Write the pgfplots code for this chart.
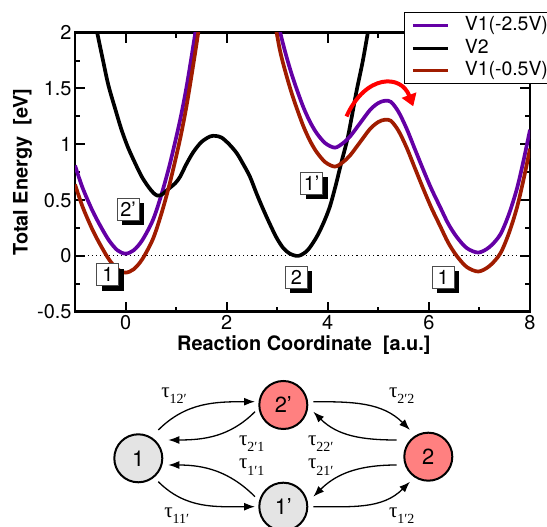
\documentclass[border=0pt]{standalone}
\usepackage{fontspec}
\setmainfont{TeX Gyre Heros}
\newfontfamily\tfont{Liberation Serif}
\usepackage{pgfplots}
\pgfplotsset{compat=1.18}
\usetikzlibrary{arrows.meta,shadows}
\definecolor{vpurple}{RGB}{100,0,165}
\definecolor{vred}{RGB}{160,28,0}
\definecolor{cgray}{RGB}{228,228,228}
\definecolor{csalmon}{RGB}{255,128,128}
\newcommand{\tlab}[1]{{\tfont τ\raisebox{-0.3em}{\fontsize{14}{14}\selectfont #1}}}
\tikzset{
  blab/.style={draw=black!70, line width=0.8bp, fill=white, minimum width=22bp, minimum height=22bp, inner sep=1bp, font=\fontsize{20}{20}\selectfont, drop shadow={shadow xshift=5bp, shadow yshift=-5bp, fill=black, opacity=1}},
  st/.style={circle, draw=black, line width=2bp, minimum size=48bp, inner sep=0pt, font=\fontsize{22}{22}\selectfont},
  tr/.style={line width=1.3bp, -{Latex[length=11bp,width=8bp]}},
  tl/.style={font=\fontsize{21}{21}\selectfont},
}
\begin{document}
\begin{tikzpicture}[x=1bp,y=1bp]
\path[use as bounding box] (0,0) rectangle (547,527);
\begin{axis}[
  at={(75bp,215.3bp)}, anchor=south west,
  scale only axis, width=455bp, height=279bp,
  xmin=-1, xmax=8, ymin=-0.5, ymax=2,
  xtick={0,2,4,6,8}, ytick={-0.5,0,0.5,1,1.5,2},
  minor x tick num=1, minor y tick num=1,
  tick align=inside,
  major tick length=10bp, minor tick length=5bp,
  axis line style={line width=2.5bp},
  tick style={black, line width=2bp},
  /pgf/number format/assume math mode=true,
  tick label style={font=\fontsize{20}{24}\selectfont},
  label style={font=\bfseries\fontsize{20}{24}\selectfont},
  xlabel={Reaction Coordinate\ \ [a.u.]},
  ylabel={Total Energy\ \ [eV]},
  xlabel style={at={(axis description cs:0.503,-0.118)}, anchor=center},
  ylabel style={at={(axis description cs:-0.1154,0.5)}, anchor=center},
  legend style={at={(axis description cs:0.723,1.074)}, anchor=north west, draw=black, line width=1bp, font=\fontsize{19.5}{22}\selectfont, inner xsep=7bp, inner ysep=4bp, row sep=4.5bp, nodes={inner sep=0bp, text height=14bp, text depth=4bp}},
  legend cell align=left,
  legend image code/.code={\draw[#1, line width=3bp] (0bp,0bp) -- (35bp,0bp); \path (50bp,0bp);},
  every axis plot/.append style={line width=3.7bp},
]
\addplot[black, line width=1.2bp, dash pattern=on 1.2bp off 3bp, forget plot] coordinates {(-1,0) (8,0)};

\addplot[vpurple, smooth] coordinates {
(-1.0,0.81) (-0.85,0.61) (-0.66,0.41) (-0.5,0.27) (-0.33,0.14) (-0.16,0.05) (0,0.02)
(0.16,0.05) (0.33,0.14) (0.54,0.32) (0.71,0.55) (0.88,0.83) (1.08,1.22) (1.22,1.55)
(1.38,2.0) (1.48,2.3) (1.55,2.5)};
\addlegendentry{V1(-2.5V)}

\addplot[black, smooth] coordinates {
(-0.63,2.16) (-0.57,2.02) (-0.45,1.76) (-0.34,1.53) (-0.2,1.31) (-0.08,1.13) (0.05,0.97)
(0.19,0.83) (0.32,0.71) (0.45,0.62) (0.55,0.565) (0.63,0.54) (0.72,0.55) (0.85,0.60)
(0.98,0.65) (1.08,0.71) (1.2,0.82) (1.34,0.93) (1.5,1.02) (1.67,1.07) (1.78,1.075)
(1.9,1.06) (2.05,1.00) (2.2,0.92) (2.33,0.82) (2.46,0.71) (2.59,0.56) (2.72,0.42)
(2.86,0.28) (2.99,0.16) (3.12,0.07) (3.25,0.02) (3.42,0.0) (3.6,0.05) (3.78,0.17)
(3.92,0.30) (4.04,0.44) (4.15,0.62) (4.27,0.84) (4.39,1.05) (4.48,1.26) (4.57,1.48)
(4.69,1.74) (4.80,2.02) (4.86,2.17)};
\addlegendentry{V2}

\addplot[vred, smooth] coordinates {
(-1.0,0.64) (-0.85,0.44) (-0.66,0.24) (-0.5,0.10) (-0.33,-0.03) (-0.16,-0.12) (0,-0.15)
(0.16,-0.12) (0.33,-0.03) (0.54,0.15) (0.71,0.38) (0.88,0.66) (1.08,1.05) (1.22,1.38)
(1.38,1.83) (1.48,2.13) (1.55,2.33)};
\addlegendentry{V1(-0.5V)}

\addplot[vpurple, smooth, forget plot] coordinates {
(2.95,2.25) (3.05,2.02) (3.18,1.79) (3.32,1.58) (3.51,1.34) (3.65,1.20) (3.78,1.10)
(3.95,1.01) (4.14,0.97) (4.30,1.01) (4.44,1.07) (4.64,1.19) (4.84,1.31) (5.0,1.37)
(5.13,1.39) (5.25,1.38) (5.40,1.29) (5.56,1.14) (5.72,0.96) (5.89,0.77) (6.05,0.60)
(6.22,0.44) (6.38,0.29) (6.55,0.17) (6.75,0.07) (6.98,0.03) (7.2,0.08) (7.41,0.19)
(7.58,0.37) (7.74,0.60) (7.87,0.85) (8.0,1.13)};

\addplot[vred, smooth, forget plot] coordinates {
(2.92,2.18) (3.05,1.85) (3.18,1.62) (3.32,1.41) (3.51,1.17) (3.65,1.03) (3.78,0.93)
(3.95,0.84) (4.14,0.80) (4.30,0.84) (4.44,0.90) (4.64,1.02) (4.84,1.14) (5.0,1.20)
(5.13,1.22) (5.25,1.21) (5.40,1.12) (5.56,0.97) (5.72,0.79) (5.89,0.60) (6.05,0.43)
(6.22,0.27) (6.38,0.12) (6.55,0.00) (6.75,-0.10) (6.98,-0.14) (7.2,-0.09) (7.41,0.02)
(7.58,0.20) (7.74,0.43) (7.87,0.68) (8.0,0.96)};

\draw[red, line width=4bp, -{Triangle[length=12bp,width=15bp]}]
  (axis cs:4.37,1.25) .. controls (axis cs:4.75,1.63) and (axis cs:5.45,1.63) .. (axis cs:5.69,1.34);

\node[blab] at (axis cs:-0.35,-0.17) {1};
\node[blab] at (axis cs:0.05,0.42) {2’};
\node[blab] at (axis cs:3.68,0.65) {1’};
\node[blab] at (axis cs:3.38,-0.19) {2};
\node[blab] at (axis cs:6.28,-0.19) {1};
\end{axis}

% state diagram
\node[st, fill=cgray] at (138.3,68.7) {1};
\node[st, fill=csalmon] at (283.3,122) {2’};
\node[st, fill=cgray] at (283.3,20.3) {1’};
\node[st, fill=csalmon] at (428.3,70.3) {2};

\draw[tr] (158.3,97) to[out=45,in=180] (255,125.3);
\draw[tr] (255,115.3) to[out=225,in=0] (168.3,87);
\draw[tr] (313.3,125.3) to[out=0,in=135] (410,97);
\draw[tr] (396.7,87) to[out=180,in=-45] (313.3,115.3);
\draw[tr] (255,30.3) to[out=135,in=0] (168.3,62);
\draw[tr] (158.3,45.3) to[out=-45,in=180] (255,20.3);
\draw[tr] (396.7,62) to[out=180,in=45] (313.3,30.3);
\draw[tr] (313.3,20.3) to[out=0,in=-135] (410,45.3);

\node[tl] at (174,131) {\tlab{12′}};
\node[tl] at (251.7,83) {\tlab{2′1}};
\node[tl] at (401.7,131) {\tlab{2′2}};
\node[tl] at (320.7,83) {\tlab{22′}};
\node[tl] at (251.7,59.7) {\tlab{1′1}};
\node[tl] at (320.7,59.7) {\tlab{21′}};
\node[tl] at (176.7,11) {\tlab{11′}};
\node[tl] at (401.7,11) {\tlab{1′2}};
\end{tikzpicture}
\end{document}
